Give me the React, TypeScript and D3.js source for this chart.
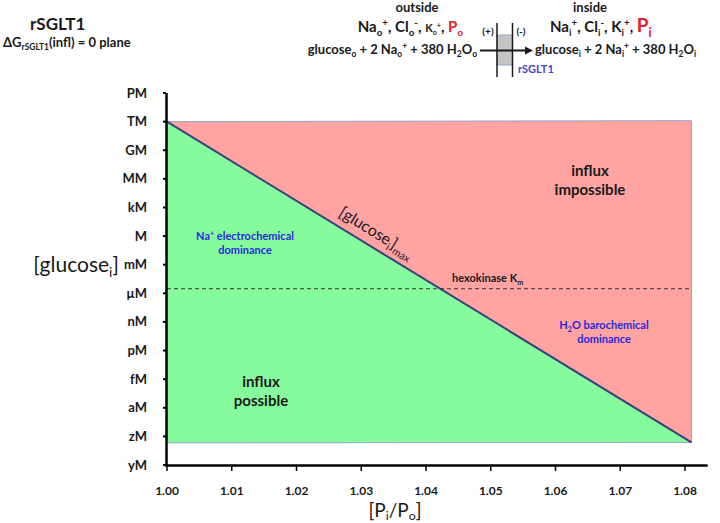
import React from 'react';
import * as d3 from 'd3';

// ---- data ----
const yTickLabels = ['yM', 'zM', 'aM', 'fM', 'pM', 'nM', 'µM', 'mM', 'M', 'kM', 'MM', 'GM', 'TM', 'PM'];
const yTickValues = [1e-24, 1e-21, 1e-18, 1e-15, 1e-12, 1e-9, 1e-6, 1e-3, 1, 1e3, 1e6, 1e9, 1e12, 1e15];
const xTickValues = [1.0, 1.01, 1.02, 1.03, 1.04, 1.05, 1.06, 1.07, 1.08];
const pRatio = [1.0, 1.081];
const glucoseMax = [1e12, 2.3e-22];
const regionTop = [1e12, 1.25e12];
const regionBottom = [2.1e-22, 2.3e-22];
const hexokinaseKm = 3e-6;

const FONT = 'Lato, "Open Sans", "DejaVu Sans", sans-serif';
const INK = '#1a1a1a';

type Seg = { t: string; s?: 'sub' | 'sup'; fs?: number; fill?: string };

function Rich(props: {
  x: number; y: number; anchor?: string; fs: number; segs: Seg[]; fill?: string; weight?: string | number; transform?: string; subShift?: number;
}) {
  const { x, y, anchor = 'start', fs, segs, fill = INK, weight = 'bold', transform, subShift = 0.25 } = props;
  let cur = 0;
  return (
    <text x={x} y={y} textAnchor={anchor} fontSize={fs} fontWeight={weight} fill={fill}
      fontFamily={FONT} transform={transform} style={{ whiteSpace: 'pre' }}>
      {segs.map((g, i) => {
        const base = g.fs ?? fs;
        const target = g.s === 'sub' ? base * subShift : g.s === 'sup' ? -base * 0.38 : 0;
        const dy = target - cur;
        cur = target;
        const size = g.s ? base * 0.65 : base;
        return (
          <tspan key={i} dy={dy} fontSize={size} fill={g.fill}>{g.t}</tspan>
        );
      })}
    </text>
  );
}

export default function App() {
  const W = 720, H = 523;
  const x = d3.scaleLinear().domain([1.0, 1.08]).range([167, 685]);
  const y = d3.scaleLog().domain([1e-24, 1e15]).range([465, 93]);
  const axisEnd = x(1.0835);

  const green = `M${x(pRatio[0])},${y(glucoseMax[0])} L${x(pRatio[1])},${y(glucoseMax[1])} L${x(pRatio[0])},${y(regionBottom[0])} Z`;
  const pink = `M${x(pRatio[0])},${y(regionTop[0])} L${x(pRatio[1])},${y(regionTop[1])} L${x(pRatio[1])},${y(glucoseMax[1])} Z`;
  const line = d3.line<[number, number]>().x(d => x(d[0])).y(d => y(d[1]));
  const diag = line(pRatio.map((p, i) => [p, glucoseMax[i]] as [number, number])) || '';

  // diagonal label position
  const x0 = x(pRatio[0]), y0 = y(glucoseMax[0]);
  const x1 = x(pRatio[1]), y1 = y(glucoseMax[1]);
  const ang = Math.atan2(y1 - y0, x1 - x0);
  const t = 0.385;
  const off = 9;
  const lx = x0 + (x1 - x0) * t + Math.sin(ang) * off;
  const ly = y0 + (y1 - y0) * t - Math.cos(ang) * off;
  const angDeg = (ang * 180) / Math.PI;

  const red = '#e8202a';
  const blue = '#2a2ad8';

  return (
    <svg width={W} height={H} style={{ position: 'absolute', left: 0, top: 0, background: '#fff' }}>
      {/* titles */}
      <text x={30} y={30} fontSize={17} fontWeight="bold" fontFamily={FONT} fill={INK}>rSGLT1</text>
      <Rich x={3} y={47} fs={13} segs={[{ t: 'ΔG' }, { t: 'rSGLT1', s: 'sub' }, { t: '(infl) = 0 plane' }]} />

      {/* top diagram */}
      <text x={417} y={12} textAnchor="middle" fontSize={13} fontWeight="bold" fontFamily={FONT} fill={INK}>outside</text>
      <text x={590} y={12} textAnchor="middle" fontSize={13} fontWeight="bold" fontFamily={FONT} fill={INK}>inside</text>
      <Rich x={463} y={32} anchor="end" fs={15} segs={[
        { t: 'Na' }, { t: 'o', s: 'sub' }, { t: '+', s: 'sup' }, { t: ', Cl' }, { t: 'o', s: 'sub' }, { t: '-', s: 'sup' },
        { t: ', ' }, { t: 'K', fs: 11 }, { t: 'o', s: 'sub', fs: 11 }, { t: '+', s: 'sup', fs: 11 }, { t: ', ' },
        { t: 'P', fill: red }, { t: 'o', s: 'sub', fill: red },
      ]} />
      <Rich x={550} y={32} fs={15} segs={[
        { t: 'Na' }, { t: 'i', s: 'sub' }, { t: '+', s: 'sup' }, { t: ', Cl' }, { t: 'i', s: 'sub' }, { t: '-', s: 'sup' },
        { t: ', K' }, { t: 'i', s: 'sub' }, { t: '+', s: 'sup' }, { t: ', ' },
        { t: 'P', fill: red, fs: 19 }, { t: 'i', s: 'sub', fill: red, fs: 19 },
      ]} />
      <Rich x={477} y={54} anchor="end" fs={13} segs={[
        { t: 'glucose' }, { t: 'o', s: 'sub' }, { t: ' + 2 Na' }, { t: 'o', s: 'sub' }, { t: '+', s: 'sup' },
        { t: ' + 380 H' }, { t: '2', s: 'sub' }, { t: 'O' }, { t: 'o', s: 'sub' },
      ]} />
      <Rich x={535} y={54} fs={13} segs={[
        { t: 'glucose' }, { t: 'i', s: 'sub' }, { t: ' + 2 Na' }, { t: 'i', s: 'sub' }, { t: '+', s: 'sup' },
        { t: ' + 380 H' }, { t: '2', s: 'sub' }, { t: 'O' }, { t: 'i', s: 'sub' },
      ]} />
      <text x={488} y={35} textAnchor="middle" fontSize={10} fontWeight="bold" fontFamily={FONT} fill={INK}>(+)</text>
      <text x={521} y={35} textAnchor="middle" fontSize={10} fontWeight="bold" fontFamily={FONT} fill={INK}>(-)</text>
      <rect x={497} y={35} width={15.5} height={30} fill="#c4c4c4" stroke="#8fa6c8" strokeWidth={1} />
      <line x1={497} x2={497} y1={23} y2={77} stroke={INK} strokeWidth={1.5} />
      <line x1={512.5} x2={512.5} y1={23} y2={77} stroke={INK} strokeWidth={1.5} />
      <line x1={480} x2={527} y1={50.5} y2={50.5} stroke={INK} strokeWidth={1.8} />
      <path d="M533,50.5 L525,46.5 L525,54.5 Z" fill={INK} />
      <text x={518} y={73} fontSize={11} fontWeight="bold" fontFamily={FONT} fill="#4646c8">rSGLT1</text>

      {/* regions */}
      <path d={green} fill="#86fb9e" stroke="#8fa6c8" strokeWidth={1} />
      <path d={pink} fill="#ffa3a3" stroke="#8fa6c8" strokeWidth={1} />
      <path d={diag} fill="none" stroke="#34457a" strokeWidth={2} />

      {/* hexokinase line */}
      <line x1={x(1.0)} x2={x(pRatio[1])} y1={y(hexokinaseKm)} y2={y(hexokinaseKm)}
        stroke="#333" strokeWidth={1} strokeDasharray="4,3" />
      <Rich x={452} y={282} fs={11} segs={[{ t: 'hexokinase K' }, { t: 'm', s: 'sub' }]} />

      {/* region labels */}
      <text x={590} y={176} textAnchor="middle" fontSize={15} fontWeight="bold" fontFamily={FONT} fill={INK}>influx</text>
      <text x={590} y={195} textAnchor="middle" fontSize={15} fontWeight="bold" fontFamily={FONT} fill={INK}>impossible</text>
      <text x={261} y={387} textAnchor="middle" fontSize={15} fontWeight="bold" fontFamily={FONT} fill={INK}>influx</text>
      <text x={261} y={406} textAnchor="middle" fontSize={15} fontWeight="bold" fontFamily={FONT} fill={INK}>possible</text>
      <Rich x={245} y={240} anchor="middle" fs={11} fill={blue} segs={[{ t: 'Na' }, { t: '+', s: 'sup' }, { t: ' electrochemical' }]} />
      <text x={245} y={254} textAnchor="middle" fontSize={11} fontWeight="bold" fontFamily={FONT} fill={blue}>dominance</text>
      <Rich x={604} y={329} anchor="middle" fs={11} fill={blue} segs={[{ t: 'H' }, { t: '2', s: 'sub' }, { t: 'O barochemical' }]} />
      <text x={604} y={343} textAnchor="middle" fontSize={11} fontWeight="bold" fontFamily={FONT} fill={blue}>dominance</text>

      <Rich x={lx} y={ly} anchor="middle" fs={16} weight="normal"
        transform={`rotate(${angDeg},${lx},${ly})`}
        segs={[{ t: '[glucose' }, { t: 'i', s: 'sub' }, { t: ']' }, { t: 'max', s: 'sub' }]} />

      {/* axes */}
      <line x1={166.5} x2={166.5} y1={y(1e15)} y2={y(1e-24) + 1} stroke="#000" strokeWidth={2.5} />
      <line x1={165} x2={axisEnd} y1={465.5} y2={465.5} stroke="#000" strokeWidth={2.5} />
      {yTickValues.map((v, i) => (
        <g key={i}>
          <line x1={163} x2={166} y1={y(v)} y2={y(v)} stroke="#000" strokeWidth={2} />
          <text x={147} y={y(v) + 4.5} textAnchor="end" fontSize={13} fontWeight="bold" fontFamily={FONT} fill={INK}>{yTickLabels[i]}</text>
        </g>
      ))}
      {xTickValues.map((v, i) => (
        <g key={i}>
          <line x1={x(v)} x2={x(v)} y1={465} y2={471} stroke="#000" strokeWidth={1.5} />
          <text x={x(v)} y={495} textAnchor="middle" fontSize={12} fontWeight="bold" fontFamily={FONT} fill={INK}>{v.toFixed(2)}</text>
        </g>
      ))}
      <Rich x={76} y={272} anchor="middle" fs={21} weight="normal" segs={[{ t: '[glucose' }, { t: 'i', s: 'sub' }, { t: ']' }]} />
      <Rich x={395} y={517} anchor="middle" fs={19} weight="normal" subShift={0.15}
        segs={[{ t: '[P' }, { t: 'i', s: 'sub' }, { t: '/P' }, { t: 'o', s: 'sub' }, { t: ']' }]} />
    </svg>
  );
}
